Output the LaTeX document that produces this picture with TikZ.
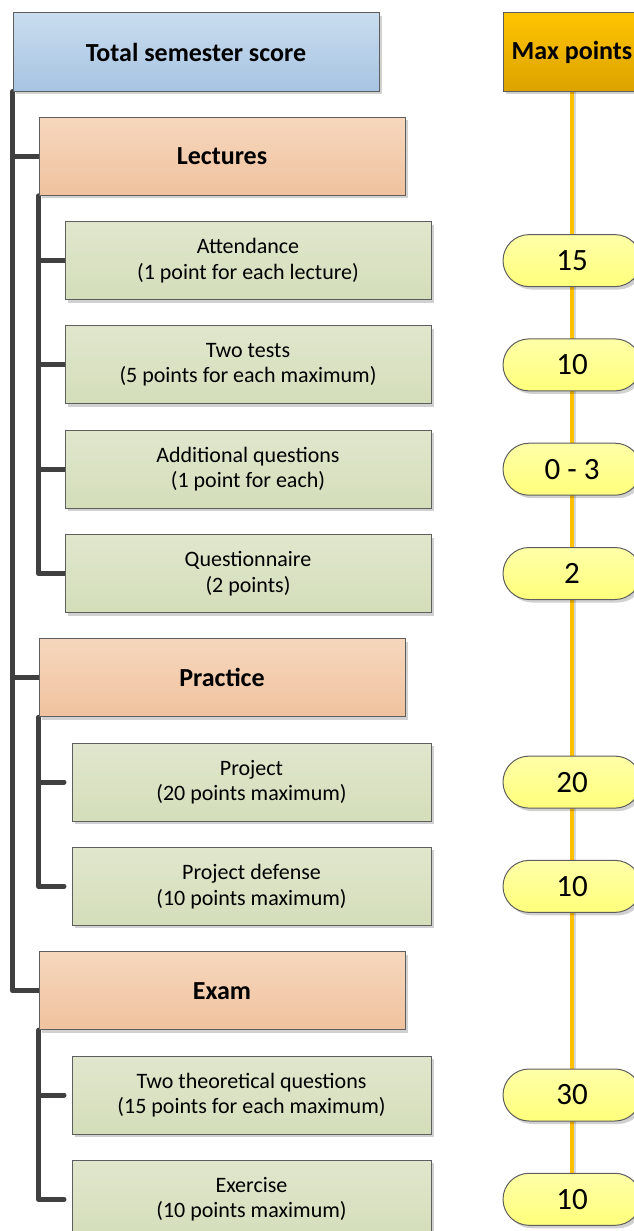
\documentclass[tikz,border=0pt]{standalone}
\usepackage{fontspec}
\setmainfont{Carlito}
\usetikzlibrary{shadows,shapes.misc,backgrounds}
\definecolor{blueTop}{HTML}{C9DCEE}
\definecolor{blueBot}{HTML}{A7C4E2}
\definecolor{goldTop}{HTML}{FFC400}
\definecolor{goldBot}{HTML}{DCA300}
\definecolor{peachTop}{HTML}{F6D7BD}
\definecolor{peachBot}{HTML}{F0C29E}
\definecolor{greenTop}{HTML}{E0E6CD}
\definecolor{greenBot}{HTML}{D4DEBA}
\definecolor{pillTop}{HTML}{FFFFA8}
\definecolor{pillBot}{HTML}{FFFF7C}
\definecolor{bordergray}{HTML}{5E5E5E}
\definecolor{conncol}{HTML}{404040}
\definecolor{orangeline}{HTML}{FFC000}
\newcommand{\hdfont}{\fontsize{26}{30}\selectfont\bfseries}
\newcommand{\lffont}{\fontsize{22}{25.5}\selectfont}
\newcommand{\plfont}{\fontsize{31}{36}\selectfont}
\tikzset{
  box/.style={draw=bordergray, line width=1pt, inner sep=0pt, align=center,
    drop shadow={shadow xshift=3pt, shadow yshift=-3pt, opacity=0.18, fill=black}},
  rootbox/.style={box, minimum width=366pt, minimum height=78pt, top color=blueTop, bottom color=blueBot, font=\hdfont},
  maxbox/.style={box, minimum width=138pt, minimum height=78pt, top color=goldTop, bottom color=goldBot, font=\hdfont},
  catbox/.style={box, minimum width=366pt, minimum height=78pt, top color=peachTop, bottom color=peachBot, font=\hdfont},
  leafbox/.style={box, minimum width=366pt, minimum height=78pt, top color=greenTop, bottom color=greenBot, font=\lffont},
  leafboxb/.style={box, minimum width=359pt, minimum height=78pt, top color=greenTop, bottom color=greenBot, font=\lffont},
  pill/.style={rounded rectangle, draw=bordergray, line width=1pt, inner sep=0pt,
    minimum width=138pt, minimum height=52pt, top color=pillTop, bottom color=pillBot, font=\plfont,
    drop shadow={shadow xshift=3pt, shadow yshift=-3pt, opacity=0.18, fill=black}},
  conn/.style={draw=conncol, line width=5pt, line cap=round, line join=round},
  vline/.style={draw=orangeline, line width=3.5pt},
  vshadow/.style={draw=black!15, line width=2.5pt}
}
\begin{document}
\begin{tikzpicture}[x=1pt,y=-1pt]
\useasboundingbox (0,0) rectangle (633,1231);
% left column
\node[rootbox] (total) at (196,52) {Total semester score};
\node[maxbox] (maxp) at (572,52) {Max points};
\node[catbox] (lect) at (222,156.3) {Lectures};
\node[leafbox] (att) at (248,260.6) {Attendance\\(1 point for each lecture)};
\node[leafbox] (tests) at (248,364.9) {Two tests\\(5 points for each maximum)};
\node[leafbox] (addq) at (248,469.2) {Additional questions\\(1 point for each)};
\node[leafbox] (quest) at (248,573.5) {Questionnaire\\(2 points)};
\node[catbox] (prac) at (222,677.8) {Practice};
\node[leafboxb] (proj) at (251.5,782.1) {Project\\(20 points maximum)};
\node[leafboxb] (projd) at (251.5,886.4) {Project defense\\(10 points maximum)};
\node[catbox] (exam) at (222,990.7) {Exam};
\node[leafboxb] (theo) at (251.5,1095) {Two theoretical questions\\(15 points for each maximum)};
\node[leafboxb] (exer) at (251.5,1199.3) {Exercise\\(10 points maximum)};
% pills
\node[pill] (p1) at (572,260.6) {15};
\node[pill] (p2) at (572,364.9) {10};
\node[pill] (p3) at (572,469.2) {0 - 3};
\node[pill] (p4) at (572,573.5) {2};
\node[pill] (p5) at (572,782.1) {20};
\node[pill] (p6) at (572,886.4) {10};
\node[pill] (p7) at (572,1095) {30};
\node[pill] (p8) at (572,1199.3) {10};
\begin{scope}[on background layer]
  % points column line
  \draw[vshadow] ([xshift=3pt]maxp.south) -- ([xshift=3pt]p8.north);
  \draw[vline] (maxp.south) -- (p8.north);
  % main trunk
  \draw[conn] (total.south west) -- (total.south west |- exam.west) -- (exam.west);
  \draw[conn] (total.south west |- lect.west) -- (lect.west);
  \draw[conn] (total.south west |- prac.west) -- (prac.west);
  % lectures
  \draw[conn] (lect.south west) -- (lect.south west |- quest.west) -- (quest.west);
  \draw[conn] (lect.south west |- att.west) -- (att.west);
  \draw[conn] (lect.south west |- tests.west) -- (tests.west);
  \draw[conn] (lect.south west |- addq.west) -- (addq.west);
  % practice
  \draw[conn] (prac.south west) -- (prac.south west |- projd.west) -- ([xshift=-7.5pt]projd.west);
  \draw[conn] (prac.south west |- proj.west) -- ([xshift=-7.5pt]proj.west);
  % exam
  \draw[conn] (exam.south west) -- (exam.south west |- exer.west) -- ([xshift=-7.5pt]exer.west);
  \draw[conn] (exam.south west |- theo.west) -- ([xshift=-7.5pt]theo.west);
\end{scope}
\end{tikzpicture}
\end{document}
